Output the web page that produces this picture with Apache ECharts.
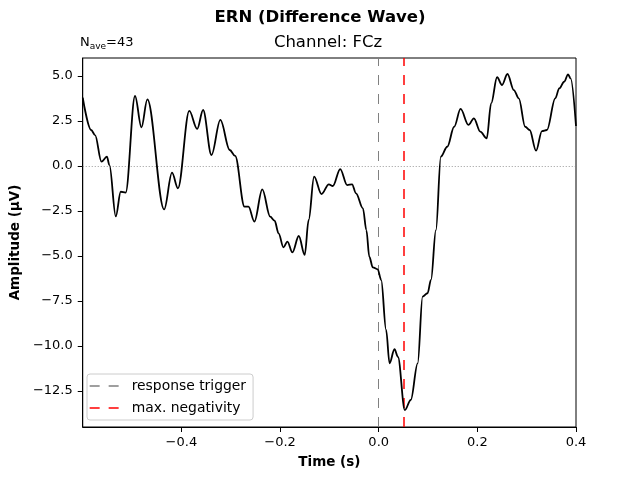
<!DOCTYPE html>
<html>
<head>
<meta charset="utf-8">
<script src="https://cdn.jsdelivr.net/npm/echarts@6/dist/echarts.min.js"></script>
<style>
  html, body { margin: 0; padding: 0; background: #fff; }
  #chart { width: 640px; height: 480px; }
</style>
</head>
<body>
<div id="chart"></div>
<script>
// difference wave
const times = [
  -0.600, -0.583, -0.575, -0.562, -0.551, -0.546, -0.533, -0.523, -0.513,
  -0.494, -0.481, -0.469, -0.435, -0.419, -0.407, -0.384, -0.368, -0.356,
  -0.339, -0.321, -0.302, -0.291, -0.272, -0.264, -0.252, -0.236, -0.220,
  -0.211, -0.203, -0.193, -0.185, -0.175, -0.162, -0.150, -0.142, -0.131,
  -0.116, -0.101, -0.093, -0.078, -0.064, -0.054, -0.046, -0.032, -0.025,
  -0.019, -0.012, -0.002, 0.005, 0.015, 0.022, 0.032, 0.039, 0.053,
  0.065, 0.079, 0.089, 0.099, 0.106, 0.116, 0.126, 0.139, 0.153,
  0.166, 0.182, 0.193, 0.206, 0.219, 0.228, 0.240, 0.250, 0.261,
  0.274, 0.284, 0.297, 0.306, 0.319, 0.331, 0.341, 0.358, 0.366,
  0.376, 0.384, 0.389, 0.400
];
const amplitude = [
  3.80, 2.00, 1.72, 0.24, 0.52, 0.06, -2.80, -1.43, -1.48,
  3.89, 2.15, 3.70, -2.41, -0.37, -1.24, 3.06, 2.06, 3.11,
  0.61, 2.56, 0.89, 0.56, -2.26, -2.26, -3.09, -1.30, -2.81,
  -3.04, -3.74, -4.52, -4.20, -4.80, -3.89, -4.94, -3.00, -0.59,
  -1.56, -1.02, -1.11, -0.17, -1.06, -1.02, -1.52, -2.35, -3.56,
  -5.04, -5.63, -5.74, -6.33, -9.10, -10.96, -10.18, -10.60, -13.56,
  -13.00, -10.96, -7.26, -7.07, -6.33, -3.56, 0.52, 1.07, 2.18,
  3.17, 2.28, 2.65, 1.91, 1.54, 3.48, 4.93, 4.50, 5.11,
  4.22, 3.76, 2.18, 2.00, 0.85, 1.94, 2.00, 3.76, 4.31,
  4.68, 5.09, 4.87, 2.22
];
const xTicks = [-0.4, -0.2, 0.0, 0.2, 0.4];
const yTicks = [-12.5, -10, -7.5, -5, -2.5, 0, 2.5, 5];
const triggerTime = 0;
const peakTime = 0.054;
const nAve = 43;

const chart = echarts.init(document.getElementById('chart'));

// matplotlib style minus sign
const fmt = v => v.toFixed(1).replace('-', '\u2212');
const font = 'DejaVu Sans';
const dash = [10, 9];

const option = {
  animation: false,
  textStyle: { fontFamily: font },
  graphic: [
    {
      type: 'text', x: 320, y: 18,
      style: { text: 'ERN (Difference Wave)', font: 'bold 16.5px "DejaVu Sans"', fill: '#000', textAlign: 'center', textVerticalAlign: 'middle' }
    },
    {
      type: 'text', x: 328, y: 43,
      style: { text: 'Channel: FCz', font: '16.5px "DejaVu Sans"', fill: '#000', textAlign: 'center', textVerticalAlign: 'middle' }
    },
    {
      type: 'text', x: 80, y: 43,
      style: {
        text: '{n|N}{s|ave}{n|=' + nAve + '}',
        textVerticalAlign: 'middle',
        rich: {
          n: { fontFamily: font, fontSize: 13, lineHeight: 16, color: '#000' },
          s: { fontFamily: font, fontSize: 9, lineHeight: 9, verticalAlign: 'bottom', color: '#000' }
        }
      }
    }
  ],
  grid: {
    left: 80, right: 64, top: 58, bottom: 53,
    show: true, borderColor: '#000', borderWidth: 1, backgroundColor: 'transparent'
  },
  legend: {
    data: ['response trigger', 'max. negativity'],
    orient: 'vertical',
    left: 87, top: 374,
    padding: [5, 7, 5, 2],
    itemWidth: 31, itemHeight: 10, itemGap: 8,
    backgroundColor: 'rgba(255,255,255,0.8)',
    borderColor: '#cccccc', borderWidth: 1, borderRadius: 3,
    itemStyle: { color: 'rgba(0,0,0,0)', borderWidth: 0 },
    lineStyle: { type: dash, width: 1.3 },
    textStyle: { fontFamily: font, fontSize: 13.9, color: '#000', padding: [0, 0, 0, 6] }
  },
  xAxis: {
    type: 'value', min: -0.6, max: 0.4,
    name: 'Time (s)', nameLocation: 'middle', nameGap: 28,
    nameTextStyle: { fontFamily: font, fontWeight: 'bold', fontSize: 13.5, color: '#000' },
    axisLine: { show: true, onZero: false, lineStyle: { color: '#000' } },
    axisTick: { show: true, length: 5, customValues: xTicks, lineStyle: { color: '#000' } },
    axisLabel: { customValues: xTicks, formatter: fmt, color: '#000', fontSize: 13, margin: 9 },
    splitLine: { show: false }
  },
  yAxis: {
    type: 'value', min: -14.5, max: 6.0,
    name: 'Amplitude (\u03bcV)', nameLocation: 'middle', nameGap: 58,
    nameTextStyle: { fontFamily: font, fontWeight: 'bold', fontSize: 13.5, color: '#000' },
    axisLine: { show: true, onZero: false, lineStyle: { color: '#000' } },
    axisTick: { show: true, length: 5, customValues: yTicks, lineStyle: { color: '#000' } },
    axisLabel: { customValues: yTicks, formatter: fmt, color: '#000', fontSize: 13, margin: 10 },
    splitLine: { show: false }
  },
  series: [
    {
      name: 'ERN',
      type: 'line',
      data: times.map((t, i) => [t, amplitude[i]]),
      showSymbol: false,
      smooth: 0.35,
      smoothMonotone: 'x',
      lineStyle: { color: '#000', width: 1.8 },
      z: 5,
      markLine: {
        silent: true, symbol: ['none', 'none'], label: { show: false },
        lineStyle: { color: '#808080', width: 0.8, type: [1, 2] },
        data: [{ yAxis: 0 }]
      }
    },
    {
      name: 'response trigger',
      type: 'line',
      data: [],
      symbol: 'none',
      itemStyle: { color: '#808080' },
      lineStyle: { color: '#808080', width: 1, type: dash },
      markLine: {
        silent: true, symbol: ['none', 'none'], label: { show: false },
        lineStyle: { color: '#808080', width: 1, type: dash },
        data: [{ xAxis: triggerTime }]
      }
    },
    {
      name: 'max. negativity',
      type: 'line',
      data: [],
      symbol: 'none',
      itemStyle: { color: '#ff0000' },
      lineStyle: { color: '#ff0000', width: 1.5, type: dash },
      markLine: {
        silent: true, symbol: ['none', 'none'], label: { show: false },
        lineStyle: { color: '#ff0000', width: 1.5, type: dash },
        data: [{ xAxis: peakTime }]
      }
    }
  ]
};

chart.setOption(option);
</script>
</body>
</html>
